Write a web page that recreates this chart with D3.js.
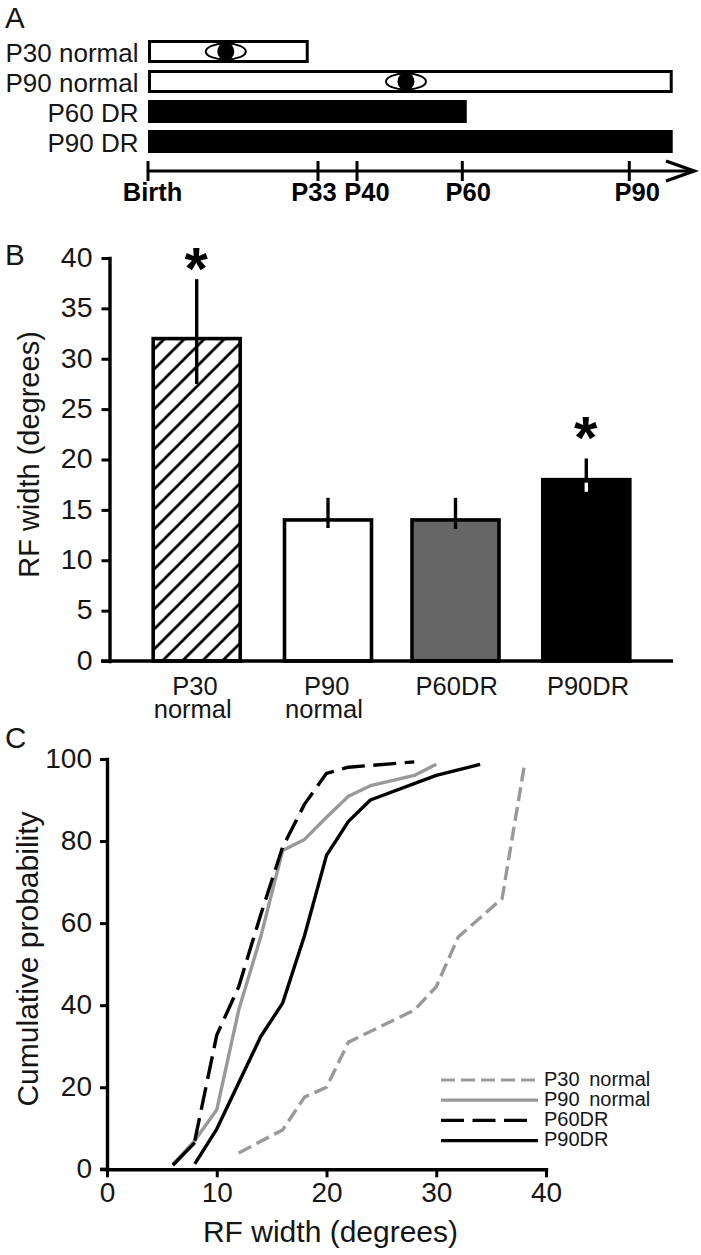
<!DOCTYPE html>
<html>
<head>
<meta charset="utf-8">
<script src="https://cdn.jsdelivr.net/npm/d3@7"></script>
<style>
html,body{margin:0;padding:0;background:#fff;}
svg{display:block;}
text{font-family:"Liberation Sans",Arial,sans-serif;fill:#151515;}
</style>
</head>
<body>
<svg id="chart" width="701" height="1255"></svg>
<script>
// Panel A
const rearingGroups = ["P30 normal","P90 normal","P60 DR","P90 DR"];
const rearingEndDays = [31.2,97.8,60.8,97.8];
const rearingFills = ["#fff","#fff","#000","#000"];
const eyeDays = [15.1,49.3,null,null];
const timelineDays = [0,33,40,60,90];
const timelineLabels = ["Birth","P33","P40","P60","P90"];
// Panel B
const barCategories = [["P30","normal"],["P90","normal"],["P60DR"],["P90DR"]];
const barValues = [32,14,14,18];
const errorTop = [37.9,16.2,16.2,20.1];
const errorBottom = [27.5,13.2,13.1,16.8];
const barSignificant = [true,false,false,true];
const barYTicks = [0,5,10,15,20,25,30,35,40];
// Panel C
const cdfXTicks = [0,10,20,30,40];
const cdfYTicks = [0,20,40,60,80,100];
const p30NormalX = [12,16,18,20,22,28,30,32,36,38];
const p30NormalY = [4,9.6,17.6,20,31,38.8,44.5,56.6,66,98];
const p90NormalX = [6,8,10,12,14,16,18,20,22,24,28,30];
const p90NormalY = [1.2,7,14.5,38.8,56.6,77.7,80.4,85.8,90.9,93.5,96,98.7];
const p60DrX = [8,10,12,14,16,18,20,22,28];
const p60DrY = [7,32.7,44.5,62,78.5,89,96.5,98,99.3];
const p90DrX = [6,8,8,10,14,16,18,20,22,24,30,34];
const p90DrY = [1,6.5,1.3,9.8,32.3,40.5,57,76.5,84.8,90,96,98.7];
const p90DrSegments = [[0,2],[2,12]];

const svg = d3.select("#chart");
const INK = "#000";
const defs = svg.append("defs");
const hatch = defs.append("pattern").attr("id","hatch")
  .attr("patternUnits","userSpaceOnUse").attr("width",20).attr("height",20)
  .attr("patternTransform","translate(3.3,0)");
hatch.append("rect").attr("width",20).attr("height",20).attr("fill","#fff");
hatch.append("path").attr("d","M-2,2L2,-2M-2,22L22,-2M18,22L22,18")
  .attr("stroke",INK).attr("stroke-width",2.8);

function panelLetter(t,y){
  svg.append("text").attr("x",5).attr("y",y).attr("font-size",29.5).text(t);
}
panelLetter("A",28); panelLetter("B",265); panelLetter("C",748);

/* ---------- Panel A ---------- */
const tX = d3.scaleLinear().domain(timelineDays).range([148,318,357,462.3,629.3]);
const rowY = d3.scaleBand().domain(rearingGroups).range([40,153]).paddingInner(7/30);
const A = svg.append("g");
rearingGroups.forEach((g,i)=>{
  const open = rearingFills[i]==="#fff";
  const inset = open?1.5:0;
  A.append("rect")
    .attr("x",tX(0)+inset).attr("y",rowY(g)+inset)
    .attr("width",tX(rearingEndDays[i])-tX(0)-2*inset)
    .attr("height",rowY.bandwidth()-2*inset)
    .attr("fill",rearingFills[i])
    .attr("stroke",open?INK:"none").attr("stroke-width",3);
  A.append("text").attr("x",138.5).attr("y",rowY(g)+21.5)
    .attr("text-anchor","end").attr("font-size",26).text(g);
  if(eyeDays[i]!==null){
    const cx=tX(eyeDays[i]), cy=rowY(g)+rowY.bandwidth()/2;
    A.append("ellipse").attr("cx",cx).attr("cy",cy).attr("rx",20).attr("ry",8)
      .attr("fill","#fff").attr("stroke",INK).attr("stroke-width",2);
    A.append("ellipse").attr("cx",cx).attr("cy",cy).attr("rx",8.5).attr("ry",8.8).attr("fill",INK);
  }
});
const axisAY = 171;
A.append("line").attr("x1",tX(0)).attr("x2",694).attr("y1",axisAY).attr("y2",axisAY)
  .attr("stroke",INK).attr("stroke-width",3);
A.append("path").attr("d",`M666,${axisAY-10}L694,${axisAY}L666,${axisAY+10}`)
  .attr("fill","none").attr("stroke",INK).attr("stroke-width",3.4);
const labelShift=[4.5,-4,10,6,8];
timelineDays.forEach((d,i)=>{
  A.append("line").attr("x1",tX(d)).attr("x2",tX(d)).attr("y1",axisAY-10).attr("y2",axisAY+10)
    .attr("stroke",INK).attr("stroke-width",3);
  A.append("text").attr("x",tX(d)+labelShift[i]).attr("y",201)
    .attr("text-anchor","middle").attr("font-size",25.5).attr("font-weight","bold")
    .style("fill","#000").text(timelineLabels[i]);
});

/* ---------- Panel B ---------- */
const bY = d3.scaleLinear().domain([0,40]).range([661,258]);
const bX = d3.scaleOrdinal().domain(d3.range(4)).range([196.7,328,455.5,586.3]);
const barW = 87;
const B = svg.append("g");
function styleAxis(g,size){
  g.selectAll("path.domain").attr("stroke",INK).attr("stroke-width",3.4).attr("stroke-linecap","square");
  g.selectAll(".tick line").attr("stroke",INK).attr("stroke-width",3);
  g.selectAll(".tick text").attr("font-size",size).attr("font-family",'"Liberation Sans",Arial,sans-serif').attr("fill","#151515");
}
const barFill=["url(#hatch)","#fff","#666","#000"];
const labelNudge=[[-1.7,-4],[-1.3,-4],[1.2],[1.7]];
barValues.forEach((v,i)=>{
  B.append("rect").attr("x",bX(i)-barW/2).attr("y",bY(v)).attr("width",barW)
    .attr("height",bY(0)-bY(v)).attr("fill",barFill[i])
    .attr("stroke",INK).attr("stroke-width",3.6);
  B.append("line").attr("x1",bX(i)).attr("x2",bX(i)).attr("y1",bY(errorTop[i])).attr("y2",bY(errorBottom[i]))
    .attr("stroke",INK).attr("stroke-width",3.4);
  if(barFill[i]==="#000"){
    B.append("line").attr("x1",bX(i)).attr("x2",bX(i)).attr("y1",bY(v-0.3)).attr("y2",bY(errorBottom[i]))
      .attr("stroke","#fff").attr("stroke-width",3.4);
  }
  const label=B.append("text").attr("y",695).attr("text-anchor","middle").attr("font-size",25.5);
  barCategories[i].forEach((t,j)=>{
    label.append("tspan").attr("x",bX(i)+labelNudge[i][j]).attr("y",695+j*23).text(t);
  });
  if(barSignificant[i]){
    B.append("text").attr("x",bX(i)-0.5).attr("y",bY(v)+(i===0?-50:-22))
      .attr("text-anchor","middle").attr("font-size",60).attr("font-weight","bold")
      .style("fill","#000").text("*");
  }
});
const bYAxis = B.append("g").attr("transform","translate(109.5,0)")
  .call(d3.axisLeft(bY).tickValues(barYTicks).tickSize(8).tickSizeOuter(0).tickPadding(9));
styleAxis(bYAxis,28.5);
bYAxis.selectAll(".tick text").attr("dy","0.29em");
B.append("line").attr("x1",101).attr("x2",673).attr("y1",bY(0)).attr("y2",bY(0))
  .attr("stroke",INK).attr("stroke-width",3.4);
B.append("text").attr("transform","translate(39,454.5) rotate(-90)")
  .attr("text-anchor","middle").attr("font-size",29).text("RF width (degrees)");

/* ---------- Panel C ---------- */
const cX = d3.scaleLinear().domain([0,40]).range([107,546]);
const cY = d3.scaleLinear().domain([0,100]).range([1169.3,759]);
const C = svg.append("g");
const cLine = d3.line().x(d=>cX(d[0])).y(d=>cY(d[1]));
const GREY="#999";
const p30dash="14 6", p60dash="23 8.5";
function drawSeries(xs,ys,col,dash,w){
  C.append("path").datum(d3.zip(xs,ys)).attr("d",cLine).attr("fill","none")
    .attr("stroke",col).attr("stroke-width",w).attr("stroke-dasharray",dash)
    .attr("stroke-linejoin","round");
}
drawSeries(p30NormalX,p30NormalY,GREY,p30dash,3.4);
drawSeries(p90NormalX,p90NormalY,GREY,null,3.4);
drawSeries(p60DrX,p60DrY,INK,p60dash,3.4);
p90DrSegments.forEach(([a,b])=>drawSeries(p90DrX.slice(a,b),p90DrY.slice(a,b),INK,null,3.4));

const cYAxis = C.append("g").attr("transform",`translate(${cX(0)},0)`)
  .call(d3.axisLeft(cY).tickValues(cdfYTicks).tickSize(7).tickSizeOuter(0).tickPadding(8));
styleAxis(cYAxis,28);
cYAxis.selectAll(".tick text").attr("dy","0.3em");
const cXAxis = C.append("g").attr("transform",`translate(0,${cY(0)})`)
  .call(d3.axisBottom(cX).tickValues(cdfXTicks).tickSize(8).tickSizeOuter(0).tickPadding(5));
styleAxis(cXAxis,28);
C.append("line").attr("x1",100).attr("x2",cX(0)).attr("y1",cY(0)).attr("y2",cY(0))
  .attr("stroke",INK).attr("stroke-width",3.4);
C.append("text").attr("transform","translate(38,959) rotate(-90)")
  .attr("text-anchor","middle").attr("font-size",30).text("Cumulative probability");
C.append("text").attr("x",330.5).attr("y",1241.5)
  .attr("text-anchor","middle").attr("font-size",30).text("RF width (degrees)");

// legend
const legendNames=["P30 normal","P90 normal","P60DR","P90DR"];
const legendCols=[GREY,GREY,INK,INK];
const legendDash=[p30dash,null,p60dash,null];
const legendEnd=[538,538,528,538];
legendNames.forEach((n,i)=>{
  const y=1080+i*20.2;
  C.append("line").attr("x1",441).attr("x2",legendEnd[i]).attr("y1",y).attr("y2",y)
    .attr("stroke",legendCols[i]).attr("stroke-width",3.2).attr("stroke-dasharray",legendDash[i]);
  C.append("text").attr("x",544).attr("y",y+5.5).attr("font-size",20)
    .style("word-spacing","4px").text(n);
});
</script>
</body>
</html>
